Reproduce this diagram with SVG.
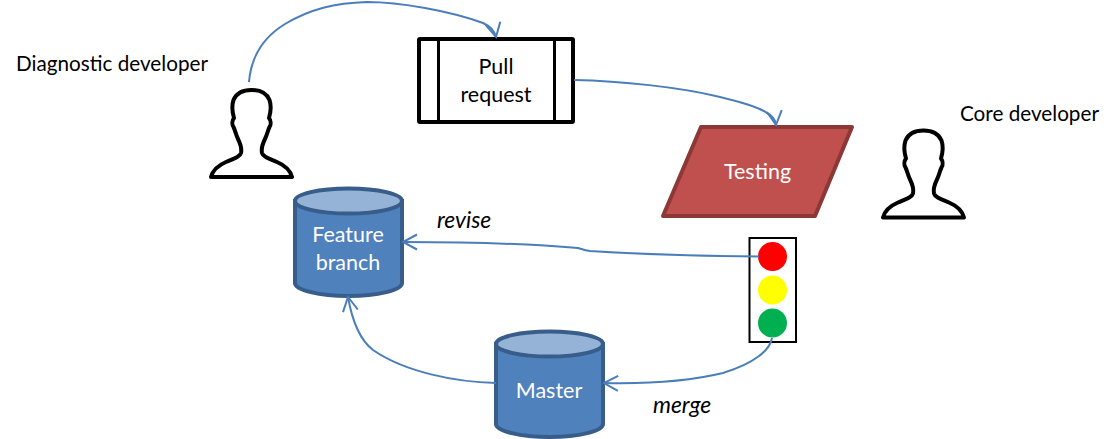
<svg xmlns="http://www.w3.org/2000/svg" width="1120" height="439" viewBox="0 0 1120 439">
  <style>
    text { font-family: Lato, "Open Sans", sans-serif; font-size: 21.5px; text-anchor: middle; }
    .lbl { fill: #000; text-anchor: start; font-size: 20.700px; }
    .em { font-style: italic; font-size: 22.800px; }
    .w { fill: #fff; }
    .conn { fill: none; stroke: #4A7EBB; stroke-width: 2; marker-end: url(#open); }
    .cyl { fill: #4F81BD; stroke: #385D8A; stroke-width: 4; }
    .cap { fill: #95B3D7; stroke: #385D8A; stroke-width: 4; }
    .person { fill: #fff; stroke: #000; stroke-width: 4; stroke-linejoin: round; }
  </style>
  <defs>
    <marker id="open" markerUnits="userSpaceOnUse" markerWidth="24" markerHeight="24" refX="16" refY="12" orient="auto">
      <path d="M2 4.500 L16 12 L2 19.500" fill="none" stroke="#4A7EBB" stroke-width="2"/>
    </marker>
    <path id="head" d="M211 177 C213 169 219 165 226 162 C233 159 240 157 241 153 C242 148 240 143 238 139 C236 135 235 130 233.500 127 C231.500 124 232.500 120 234 118 C232.500 113 231.500 106 233.500 100 C236.500 93 244 90 251.500 90 C259 90 266.500 93 269.500 100 C271.500 106 270.500 113 269 118 C270.500 120 271.500 124 269.500 127 C268 130 267 135 265 139 C263 143 261 148 262 153 C263 157 270 159 277 162 C284 165 290 169 292 177 Z"/>
  </defs>

  <g id="diagnostic-developer">
    <use href="#head" class="person"/>
    <text class="lbl" x="16" y="71">Diagnostic developer</text>
  </g>
  <g id="core-developer">
    <use href="#head" class="person" transform="translate(672 40.5)"/>
    <text class="lbl" x="960" y="121">Core developer</text>
  </g>
  <g id="pull-request">
    <rect x="419" y="39" width="154" height="83" rx="1" fill="#fff" stroke="#000" stroke-width="4"/>
    <path d="M438.500 39V122M554.500 39V122" fill="none" stroke="#000" stroke-width="3"/>
    <text x="496" y="74">Pull</text>
    <text x="496" y="102">request</text>
  </g>
  <g id="testing">
    <path d="M701 127H852L815 216H663Z" fill="#C0504D" stroke="#8C3836" stroke-width="4" stroke-linejoin="round"/>
    <text class="w" x="757.500" y="179">Testing</text>
  </g>
  <g id="traffic-light">
    <rect x="749.500" y="238" width="46.500" height="104" fill="#fff" stroke="#000" stroke-width="2"/>
    <circle cx="772.500" cy="256.500" r="14.500" fill="#f00"/>
    <circle cx="772.500" cy="290" r="14.500" fill="#ff0"/>
    <circle cx="772.500" cy="323" r="14.500" fill="#00B050"/>
  </g>
  <g id="feature-branch">
    <path class="cyl" d="M295 201V283C295 290 319 296 348.500 296C378 296 402 290 402 283V201Z"/>
    <ellipse class="cap" cx="348.500" cy="201" rx="53.500" ry="12.500"/>
    <text class="w" x="348" y="242">Feature</text>
    <text class="w" x="348" y="270">branch</text>
  </g>
  <g id="master">
    <path class="cyl" d="M496 344V424C496 431 520 437 549.500 437C579 437 603 431 603 424V344Z"/>
    <ellipse class="cap" cx="549.500" cy="344" rx="53.500" ry="12.500"/>
    <text class="w" x="549" y="398">Master</text>
  </g>
  <g id="connectors">
    <path class="conn" d="M249 82C251 58 262 38 285 24C310 9 335 3 367 2C400 2 450 11 483 23Q494 28 496 37"/>
    <path class="conn" d="M574 80C620 81 680 87 720 97C745 103 760 108 767 113Q775 117 776 125"/>
    <path class="conn" d="M759 256.500C710 256 650 255 590 251C583 250 582 249 578 248C520 243 460 242 403 242"/>
    <path class="conn" d="M496 383C455 382 405 372 373 350C360 340 352 320 348 297"/>
    <path class="conn" d="M772 338C770 350 755 363 723 373C690 381 650 384 604 383"/>
  </g>
  <g id="labels">
    <text class="lbl em" x="437" y="228">revise</text>
    <text class="lbl em" x="653" y="413">merge</text>
  </g>
</svg>
